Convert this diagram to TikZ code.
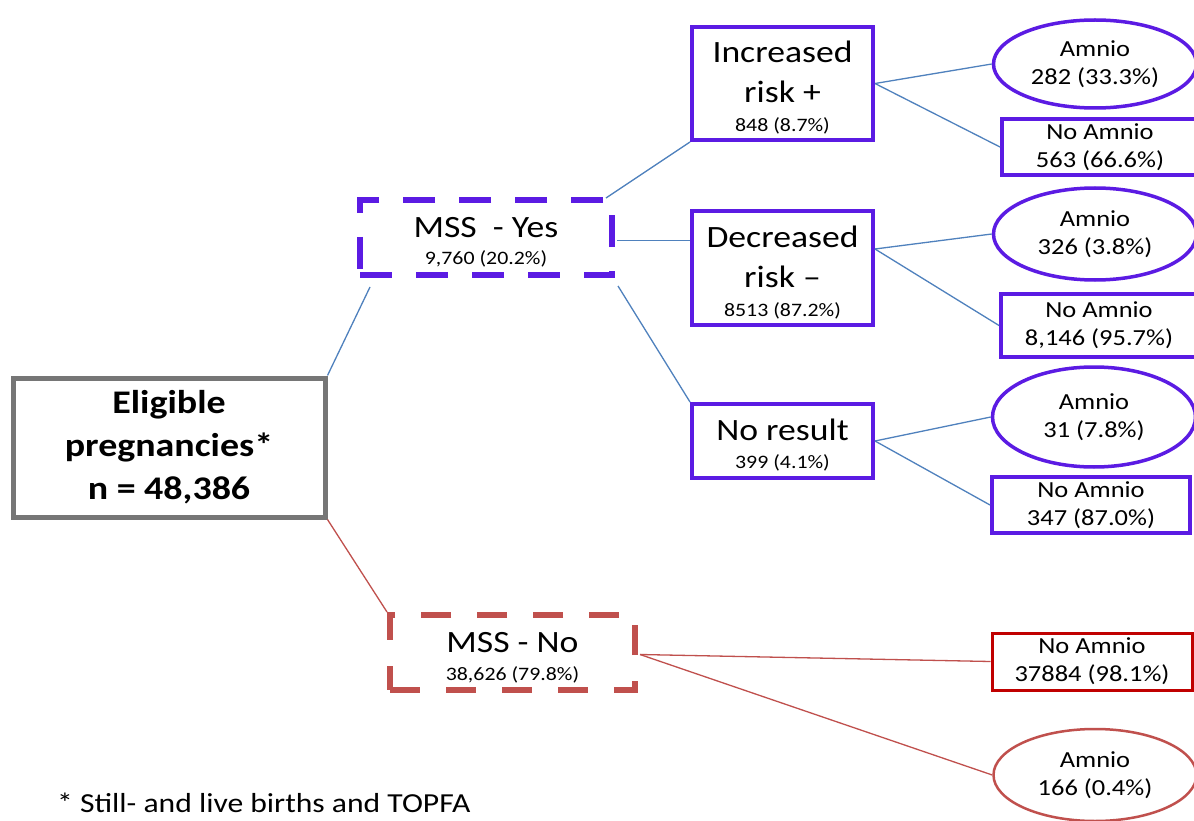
\documentclass[tikz,border=0pt]{standalone}
\usepackage{fontspec}
\setmainfont{Carlito}[FakeStretch=1.15]
\usetikzlibrary{shapes.geometric,calc}
\definecolor{msspurple}{RGB}{91,27,227}
\definecolor{eliggray}{RGB}{118,118,118}
\definecolor{linkblue}{RGB}{79,129,189}
\definecolor{mssred}{RGB}{192,80,77}
\definecolor{boxred}{RGB}{192,0,0}
\newcommand{\bigtxt}{\fontsize{31}{40}\selectfont}
\newcommand{\numtxt}{\fontsize{19}{22}\selectfont}
\newcommand{\leaftxt}{\fontsize{23}{28}\selectfont}
\newcommand{\topgap}{\rule{0pt}{30pt}}

\begin{document}
\begin{tikzpicture}[x=1pt,y=-1pt,
  elig/.style={draw=eliggray, line width=5pt, align=center, inner sep=0pt, minimum width=312, minimum height=139, font=\fontsize{33}{43}\selectfont\bfseries},
  yesbox/.style={draw=msspurple, line width=6pt, dash pattern=on 32pt off 24pt, align=center, inner sep=0pt, minimum width=252, minimum height=75, font=\bigtxt},
  nobox/.style={draw=mssred, line width=6pt, dash pattern=on 30pt off 26pt, align=center, inner sep=0pt, minimum width=245, minimum height=75, font=\bigtxt},
  risk/.style={draw=msspurple, line width=4pt, align=center, inner sep=0pt, minimum width=181, font=\bigtxt},
  amnio/.style={draw=msspurple, line width=3.5pt, ellipse, align=center, inner sep=0pt, minimum width=203, font=\leaftxt},
  noamnio/.style={draw=msspurple, line width=4pt, align=center, inner sep=0pt, minimum width=196, font=\leaftxt},
  link/.style={draw=linkblue, line width=1.3pt},
  redlink/.style={draw=mssred, line width=1.3pt}
]
\useasboundingbox (0,0) rectangle (1194,821);
\fill[white] (0,0) rectangle (1194,821);
\node[elig] (elig) at (169,447.5) {Eligible\\pregnancies*\\n = 48,386};
\node[yesbox] (yes) at (486,237.5) {\topgap MSS\ \ - Yes\\[-13pt]{\numtxt 9,760 (20.2\%)}};
\node[nobox] (no) at (512.5,652.5) {\topgap MSS - No\\[-12pt]{\numtxt 38,626 (79.8\%)}};
\node[risk, minimum height=113] (inc) at (782.5,83.5) {\topgap Increased\\risk +\\[-11pt]{\numtxt 848 (8.7\%)}};
\node[risk, minimum height=114] (dec) at (782.5,268) {\topgap Decreased\\risk –\\[-11pt]{\numtxt 8513 (87.2\%)}};
\node[risk, minimum height=74] (nores) at (782.5,441) {\topgap No result\\[-12pt]{\numtxt 399 (4.1\%)}};
\node[amnio, minimum height=88] (am1) at (1095,64) {Amnio\\282 (33.3\%)};
\node[noamnio, minimum height=56] (na1) at (1100,147) {No Amnio\\563 (66.6\%)};
\node[amnio, minimum height=92] (am2) at (1095,234) {Amnio\\326 (3.8\%)};
\node[noamnio, minimum height=63] (na2) at (1099,325.5) {No Amnio\\8,146 (95.7\%)};
\node[amnio, minimum height=100] (am3) at (1094,417) {Amnio\\31 (7.8\%)};
\node[noamnio, minimum width=198, minimum height=56] (na3) at (1091,505) {No Amnio\\347 (87.0\%)};
\node[noamnio, draw=boxred, line width=3pt, minimum width=200, minimum height=57] (rna) at (1092,661.5) {No Amnio\\37884 (98.1\%)};
\node[amnio, draw=mssred, line width=2.5pt, minimum height=92] (ram) at (1095,775) {Amnio\\166 (0.4\%)};
\node[anchor=west, inner sep=0pt, font=\fontsize{27.5}{32}\selectfont] (note) at (57,803) {* Still- and live births and TOPFA};
\draw[link] (elig.north east) -- ($(yes.south west)+(13,9)$);
\draw[redlink] (elig.south east) -- (no.north west);
\draw[link] ($(yes.north east)+(-9,1)$) -- (inc.south west);
\draw[link] ($(yes.east)+(2,3)$) -- ($(yes.east -| dec.west)+(0,3)$);
\draw[link] ($(yes.south east)+(3,8)$) -- (nores.north west);
\draw[link] (inc.east) -- (am1.west);
\draw[link] (inc.east) -- (na1.west);
\draw[link] ([yshift=19pt]dec.east) -- (am2.west);
\draw[link] ([yshift=19pt]dec.east) -- (na2.west);
\draw[link] (nores.east) -- (am3.west);
\draw[link] (nores.east) -- (na3.west);
\draw[redlink] ($(no.east)+(2,2)$) -- (rna.west);
\draw[redlink] ($(no.east)+(2,2)$) -- (ram.west);
\end{tikzpicture}
\end{document}
